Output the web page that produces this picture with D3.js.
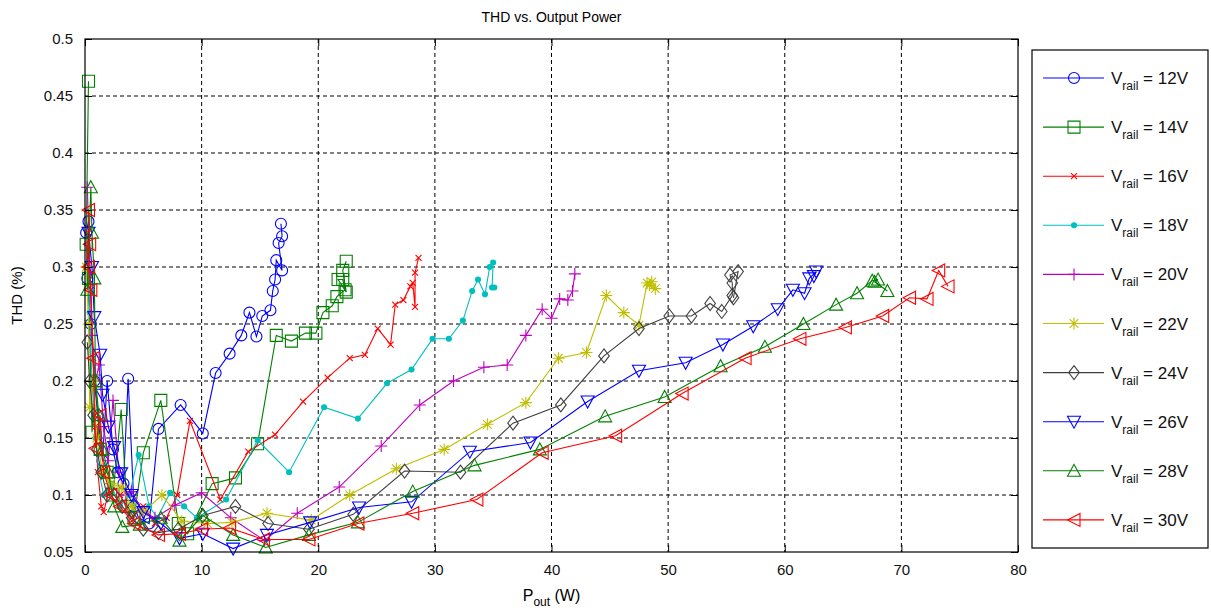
<!DOCTYPE html>
<html><head><meta charset="utf-8">
<script src="https://cdn.jsdelivr.net/npm/d3@7"></script>
<style>body{margin:0;background:#fff;} svg text{font-family:"Liberation Sans",Arial,sans-serif;}</style>
</head><body><svg id="c" width="1211" height="611"></svg>
<script>
// ---- data ----
const railLabels = ["12V","14V","16V","18V","20V","22V","24V","26V","28V","30V"];
const xTicks = [0,10,20,30,40,50,60,70,80];
const yTicks = [0.05,0.1,0.15,0.2,0.25,0.3,0.35,0.4,0.45,0.5];
// [Pout (W), THD (%)]
const v12 = [[0.1,0.33],[0.3,0.34],[0.2,0.29],[0.5,0.25],[0.8,0.2],[1.1,0.17],[1.5,0.13],[1.9,0.2],[2.4,0.14],[2.8,0.12],[3.3,0.11],[3.7,0.202],[4.2,0.09],[4.6,0.08],[5.5,0.075],[6.3,0.158],[8.2,0.179],[10.1,0.154],[11.2,0.207],[12.4,0.224],[13.4,0.24],[14.1,0.26],[14.7,0.239],[15.2,0.257],[15.9,0.262],[16.1,0.279],[16.3,0.289],[16.4,0.306],[16.9,0.297],[16.6,0.321],[16.9,0.327],[16.8,0.338]];
const v14 = [[0.3,0.463],[0.1,0.32],[0.3,0.29],[0.6,0.155],[0.9,0.2],[1.3,0.14],[1.9,0.12],[2.4,0.1],[3.1,0.175],[3.6,0.09],[4.2,0.08],[5.0,0.137],[6.5,0.183],[8.0,0.075],[8.8,0.066],[10.9,0.11],[12.9,0.115],[14.8,0.145],[16.4,0.24],[17.7,0.235],[18.9,0.242],[19.8,0.242],[20.4,0.26],[21.2,0.266],[21.6,0.274],[22.3,0.28],[22.1,0.289],[21.7,0.289],[22.4,0.278],[22.1,0.297],[22.4,0.305]];
const v16 = [[0.1,0.3],[0.3,0.33],[0.5,0.28],[0.7,0.22],[0.9,0.16],[1.1,0.12],[1.4,0.09],[1.6,0.085],[2.2,0.11],[3.0,0.1],[4.0,0.08],[5.0,0.09],[6.0,0.075],[7.0,0.08],[7.9,0.1],[9.0,0.165],[11.6,0.096],[14.0,0.138],[16.3,0.153],[18.7,0.182],[20.8,0.203],[22.7,0.22],[24.0,0.223],[25.1,0.246],[26.2,0.232],[26.6,0.267],[27.3,0.271],[27.9,0.283],[28.1,0.286],[28.3,0.265],[28.3,0.295],[28.6,0.308]];
const v18 = [[0.2,0.3],[0.4,0.26],[0.6,0.2],[0.9,0.15],[1.2,0.12],[1.6,0.1],[2.2,0.11],[3.0,0.09],[3.8,0.1],[4.6,0.135],[5.5,0.09],[6.2,0.08],[7.3,0.102],[8.5,0.09],[9.6,0.08],[12.1,0.096],[14.8,0.148],[17.5,0.12],[20.5,0.177],[23.4,0.167],[25.9,0.198],[28.0,0.21],[29.8,0.237],[31.2,0.237],[32.4,0.253],[33.2,0.279],[33.7,0.289],[34.3,0.276],[34.7,0.3],[35.0,0.304],[34.9,0.282],[35.1,0.282]];
const v20 = [[0.2,0.37],[0.4,0.3],[0.6,0.24],[0.9,0.2],[1.2,0.214],[1.6,0.16],[2.0,0.13],[2.4,0.183],[2.9,0.12],[3.5,0.1],[4.0,0.103],[5.0,0.085],[6.0,0.08],[7.7,0.091],[10.0,0.102],[12.5,0.08],[15.4,0.06],[18.2,0.084],[21.8,0.107],[25.4,0.143],[28.7,0.179],[31.6,0.2],[34.2,0.212],[36.2,0.214],[37.8,0.24],[39.2,0.263],[40.0,0.255],[40.7,0.272],[41.4,0.271],[41.8,0.279],[42.0,0.294]];
const v22 = [[0.1,0.3],[0.3,0.25],[0.4,0.177],[0.7,0.2],[1.0,0.15],[1.5,0.12],[2.2,0.11],[3.1,0.107],[4.0,0.09],[5.0,0.085],[6.6,0.1],[8.3,0.077],[10.5,0.075],[12.6,0.076],[15.6,0.084],[19.4,0.078],[22.7,0.1],[26.7,0.123],[30.8,0.14],[34.5,0.162],[37.8,0.181],[40.6,0.22],[43.0,0.225],[44.7,0.275],[46.2,0.26],[47.5,0.249],[48.2,0.286],[48.6,0.287],[48.9,0.281],[48.4,0.284]];
const v24 = [[0.2,0.234],[0.4,0.2],[0.7,0.17],[1.0,0.14],[1.4,0.12],[1.9,0.1],[2.5,0.1],[3.2,0.09],[4.0,0.08],[5.0,0.07],[6.3,0.067],[8.0,0.07],[10.1,0.082],[12.9,0.09],[15.7,0.075],[19.2,0.07],[23.0,0.083],[27.4,0.121],[32.2,0.12],[36.7,0.163],[40.8,0.179],[44.5,0.222],[47.5,0.246],[50.1,0.257],[52.0,0.257],[53.6,0.268],[54.6,0.261],[55.5,0.275],[55.5,0.286],[55.3,0.293],[56.0,0.296],[55.6,0.273]];
const v26 = [[0.3,0.33],[0.6,0.3],[0.8,0.256],[1.3,0.223],[1.5,0.188],[2.0,0.16],[2.5,0.142],[3.1,0.119],[4.0,0.1],[5.0,0.085],[6.5,0.075],[8.1,0.062],[10.1,0.066],[12.7,0.053],[15.6,0.065],[19.3,0.076],[23.5,0.089],[28.0,0.094],[33.0,0.138],[38.2,0.146],[43.1,0.182],[47.5,0.209],[51.5,0.216],[54.7,0.232],[57.3,0.248],[59.4,0.263],[60.7,0.28],[61.7,0.277],[62.1,0.29],[62.7,0.296],[62.5,0.292]];
const v28 = [[0.2,0.28],[0.5,0.37],[0.6,0.33],[0.8,0.29],[0.9,0.2],[1.2,0.17],[1.5,0.14],[2.0,0.12],[2.5,0.09],[3.2,0.072],[4.7,0.074],[6.5,0.08],[8.1,0.06],[10.1,0.082],[12.7,0.065],[15.5,0.054],[19.2,0.065],[23.4,0.076],[28.1,0.103],[33.4,0.126],[39.0,0.14],[44.6,0.169],[49.7,0.186],[54.5,0.213],[58.3,0.23],[61.6,0.25],[64.4,0.267],[66.2,0.277],[67.5,0.288],[68.0,0.289],[67.7,0.287],[68.8,0.279]];
const v30 = [[0.3,0.35],[0.4,0.32],[0.3,0.3],[0.5,0.28],[0.7,0.22],[0.9,0.141],[1.3,0.17],[1.6,0.12],[2.2,0.1],[3.0,0.09],[4.2,0.075],[6.3,0.065],[8.1,0.066],[10.0,0.07],[12.4,0.071],[15.3,0.061],[19.2,0.061],[23.4,0.075],[28.1,0.084],[33.6,0.096],[39.2,0.137],[45.5,0.152],[51.2,0.189],[56.6,0.22],[61.3,0.237],[65.2,0.247],[68.4,0.257],[70.7,0.273],[72.2,0.272],[73.2,0.297],[74.0,0.283]];
const seriesValues = [v12,v14,v16,v18,v20,v22,v24,v26,v28,v30];
const seriesColors = ["#0000ff","#008000","#ff0000","#00bfbf","#bf00bf","#bfbf00","#404040","#0000ff","#008000","#ff0000"];
const seriesMarkers = ["o","s","x",".","+","*","d","v","^","<"];

// ---- layout ----
const svg = d3.select("#c");
const L = 85, R = 1018, T = 39, B = 552;
const x = d3.scaleLinear().domain([0,80]).range([L,R]);
const y = d3.scaleLinear().domain([0.05,0.5]).range([B,T]);

function markerPath(m){
  const p = d3.path();
  switch(m){
    case "o": p.moveTo(5.5,0); p.arc(0,0,5.5,0,2*Math.PI); break;
    case "s": p.rect(-6,-6,12,12); break;
    case "x": p.moveTo(-3,-3); p.lineTo(3,3); p.moveTo(-3,3); p.lineTo(3,-3); break;
    case ".": p.moveTo(2.5,0); p.arc(0,0,2.5,0,2*Math.PI); break;
    case "+": p.moveTo(-6,0); p.lineTo(6,0); p.moveTo(0,-6); p.lineTo(0,6); break;
    case "*": p.moveTo(-6,0); p.lineTo(6,0); p.moveTo(0,-6); p.lineTo(0,6);
              p.moveTo(-4.3,-4.3); p.lineTo(4.3,4.3); p.moveTo(-4.3,4.3); p.lineTo(4.3,-4.3); break;
    case "d": p.moveTo(0,-7); p.lineTo(5.3,0); p.lineTo(0,7); p.lineTo(-5.3,0); p.closePath(); break;
    case "v": p.moveTo(-6.5,-5.5); p.lineTo(6.5,-5.5); p.lineTo(0,6.5); p.closePath(); break;
    case "^": p.moveTo(-6.5,5.5); p.lineTo(6.5,5.5); p.lineTo(0,-6.5); p.closePath(); break;
    case "<": p.moveTo(6,-6.5); p.lineTo(6,6.5); p.lineTo(-6.5,0); p.closePath(); break;
  }
  return p.toString();
}

// grid
const grid = svg.append("g");
grid.selectAll("line.gx").data(xTicks.slice(1,-1)).join("line")
  .attr("x1",d=>x(d)).attr("x2",d=>x(d)).attr("y1",T).attr("y2",B)
  .attr("stroke","#000").attr("stroke-width",1).attr("stroke-dasharray","4,3");
grid.selectAll("line.gy").data(yTicks.slice(1,-1)).join("line")
  .attr("y1",d=>y(d)).attr("y2",d=>y(d)).attr("x1",L).attr("x2",R)
  .attr("stroke","#000").attr("stroke-width",1).attr("stroke-dasharray","4,3");

// series
const line = d3.line().x(d=>x(d[0])).y(d=>y(d[1]));
seriesValues.forEach((vals,i)=>{
  const g = svg.append("g");
  const c = seriesColors[i], m = seriesMarkers[i];
  g.append("path").attr("d",line(vals)).attr("fill","none").attr("stroke",c).attr("stroke-width",1.1);
  g.selectAll("path.m").data(vals).join("path").attr("class","m")
    .attr("d",markerPath(m)).attr("transform",d=>`translate(${x(d[0])},${y(d[1])})`)
    .attr("fill", m==="." ? c : "none").attr("stroke",c).attr("stroke-width",1.1);
});

// axes box + ticks
const ax = svg.append("g");
ax.append("rect").attr("x",L).attr("y",T).attr("width",R-L).attr("height",B-T)
  .attr("fill","none").attr("stroke","#000").attr("stroke-width",1.2);
const xAxis = d3.axisBottom(x).tickValues(xTicks).tickSize(-7).tickPadding(12).tickFormat(d3.format("d"));
ax.append("g").attr("transform",`translate(0,${B})`).call(xAxis);
const xAxisTop = d3.axisTop(x).tickValues(xTicks).tickSize(-7).tickFormat("");
ax.append("g").attr("transform",`translate(0,${T})`).call(xAxisTop);
const yAxis = d3.axisLeft(y).tickValues(yTicks).tickSize(-7).tickPadding(12).tickFormat(d=>d3.format("")(+d.toFixed(2)));
ax.append("g").attr("transform",`translate(${L},0)`).call(yAxis);
const yAxisR = d3.axisRight(y).tickValues(yTicks).tickSize(-7).tickFormat("");
ax.append("g").attr("transform",`translate(${R},0)`).call(yAxisR);
ax.selectAll(".domain").remove();
ax.selectAll(".tick line").attr("stroke","#000");
ax.selectAll(".tick text").attr("font-size",15).attr("fill","#111").attr("font-family","'Liberation Sans',Arial,sans-serif");

// title & labels
svg.append("text").attr("x",(L+R)/2).attr("y",22).attr("text-anchor","middle")
  .attr("font-size",14).text("THD vs. Output Power");
svg.append("text").attr("transform",`translate(22,${(T+B)/2}) rotate(-90)`).attr("text-anchor","middle")
  .attr("font-size",15).text("THD (%)");
const xl = svg.append("text").attr("x",(L+R)/2).attr("y",601).attr("text-anchor","middle").attr("font-size",16);
xl.append("tspan").text("P");
xl.append("tspan").attr("font-size",12).attr("dy",5).text("out");
xl.append("tspan").attr("dy",-5).text(" (W)");

// legend
const LX = 1032, LT = 50, LB = 548;
const leg = svg.append("g");
leg.append("rect").attr("x",LX).attr("y",LT).attr("width",176).attr("height",LB-LT)
  .attr("fill","#fff").attr("stroke","#000").attr("stroke-width",1.2);
railLabels.forEach((lab,i)=>{
  const ly = 78 + i*49.1, c = seriesColors[i], m = seriesMarkers[i];
  leg.append("line").attr("x1",1043).attr("x2",1104).attr("y1",ly).attr("y2",ly).attr("stroke",c).attr("stroke-width",1.1);
  leg.append("path").attr("d",markerPath(m)).attr("transform",`translate(1074,${ly})`)
    .attr("fill", m==="." ? c : "none").attr("stroke",c).attr("stroke-width",1.1);
  const t = leg.append("text").attr("x",1111).attr("y",ly+6).attr("font-size",17).attr("fill","#111");
  t.append("tspan").text("V");
  t.append("tspan").attr("font-size",12).attr("dy",6).text("rail");
  t.append("tspan").attr("dy",-6).text(" = " + lab);
});
</script></body></html>
